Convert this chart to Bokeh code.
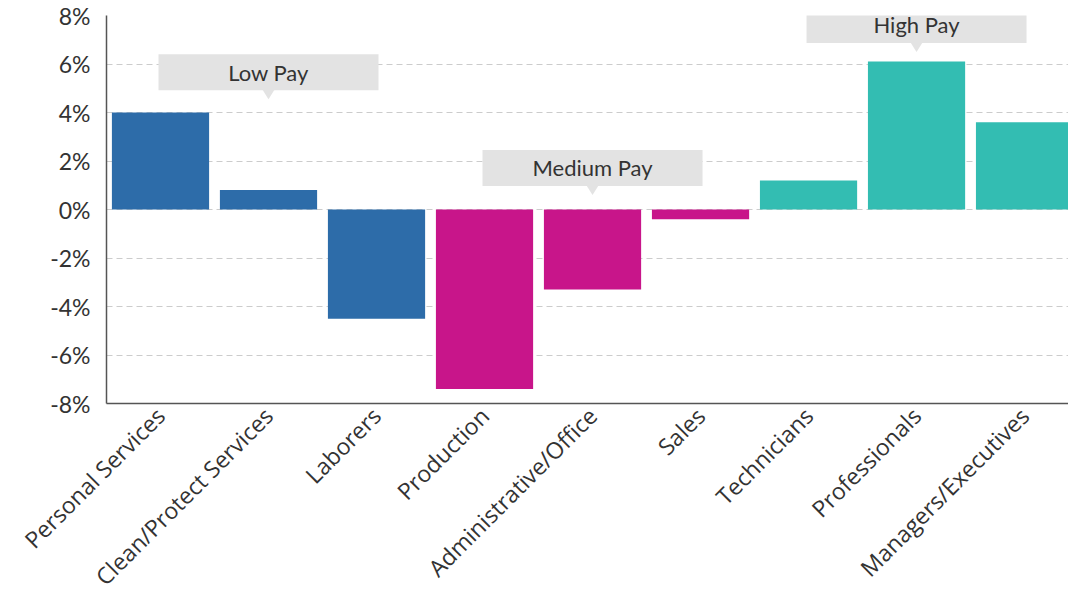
import math
from bokeh.plotting import figure
from bokeh.models import FixedTicker, PrintfTickFormatter, ColumnDataSource
from bokeh.core.properties import value
from bokeh.embed import file_html
from bokeh.resources import INLINE

categories = ["Personal Services", "Clean/Protect Services", "Laborers", "Production",
              "Administrative/Office", "Sales", "Technicians", "Professionals",
              "Managers/Executives"]
changes = [4.0, 0.8, -4.5, -7.4, -3.3, -0.4, 1.2, 6.1, 3.6]
pay_groups = ["Low", "Low", "Low", "Medium", "Medium", "Medium", "High", "High", "High"]
group_names = ["Low", "Medium", "High"]
group_labels = ["Low Pay", "Medium Pay", "High Pay"]
group_center_index = [1, 4, 7]
group_pointer_values = [4.55, 0.6, 6.5]
y_ticks = [-8, -6, -4, -2, 0, 2, 4, 6, 8]

group_colors = {"Low": "#2d6ca9", "Medium": "#c8158a", "High": "#33bdb2"}

x_pos = list(range(len(categories)))
src = ColumnDataSource(dict(
    x=x_pos,
    top=[max(v, 0) for v in changes],
    bottom=[min(v, 0) for v in changes],
    color=[group_colors[g] for g in pay_groups],
))

p = figure(frame_width=962, frame_height=388, output_backend="svg", toolbar_location=None,
           x_range=(-0.5, 8.407), y_range=(-8, 8),
           min_border_left=106, min_border_right=0, min_border_top=15,
           min_border_bottom=10)
p.outline_line_color = None
p.background_fill_color = "white"
p.border_fill_color = "white"

p.vbar(x="x", top="top", bottom="bottom", width=0.9, color="color", source=src,
       line_color=None)

# annotation callouts
px_x = 108.0
px_y = 388.0 / 16
half_w = 110 / px_x
box_h = 36 / px_y
tip_h = 9 / px_y
tip_hw = 6 / px_x
ann = ColumnDataSource(dict(
    left=[c - half_w for c in group_center_index],
    right=[c + half_w for c in group_center_index],
    bottom=[t + tip_h for t in group_pointer_values],
    top=[t + tip_h + box_h for t in group_pointer_values],
    ty=[t + tip_h + box_h / 2 for t in group_pointer_values],
    x=group_center_index,
    label=group_labels,
))
p.quad(left="left", right="right", bottom="bottom", top="top", source=ann,
       fill_color="#e3e3e3", line_color=None)
p.patches(xs=[[c - tip_hw, c + tip_hw, c] for c in group_center_index],
          ys=[[t + tip_h + 0.02, t + tip_h + 0.02, t] for t in group_pointer_values],
          fill_color="#e3e3e3", line_color=None)
p.text(x="x", y="ty", text="label", source=ann, text_align="center",
       text_baseline="middle", text_font=value("Lato"), text_font_size="22px",
       text_color="#333333")

# axes
p.xgrid.visible = False
p.ygrid.ticker = FixedTicker(ticks=y_ticks)
p.ygrid.grid_line_color = "#cccccc"
p.ygrid.grid_line_dash = "6 4"
p.ygrid.grid_line_width = 1

p.yaxis.ticker = FixedTicker(ticks=y_ticks)
p.yaxis.formatter = PrintfTickFormatter(format="%d%%")
p.yaxis.major_tick_line_color = None
p.yaxis.minor_tick_line_color = None
p.yaxis.major_tick_out = 0
p.yaxis.major_label_standoff = 16
p.yaxis.major_label_text_font = "Lato"
p.yaxis.major_label_text_font_size = "23px"
p.yaxis.major_label_text_color = "#333333"
p.yaxis.axis_line_color = "#555555"
p.yaxis.axis_line_width = 1.5

p.xaxis.ticker = FixedTicker(ticks=x_pos)
p.xaxis.major_label_overrides = {i: c for i, c in enumerate(categories)}
p.xaxis.major_label_orientation = math.pi / 4
p.xaxis.major_tick_line_color = None
p.xaxis.minor_tick_line_color = None
p.xaxis.major_tick_out = 0
p.xaxis.major_label_standoff = 8
p.xaxis.major_label_text_font = "Open Sans"
p.xaxis.major_label_text_font_size = "23px"
p.xaxis.major_label_text_color = "#333333"
p.xaxis.axis_line_color = "#555555"
p.xaxis.axis_line_width = 1.5

open("out.html", "w").write(file_html(p, INLINE))
